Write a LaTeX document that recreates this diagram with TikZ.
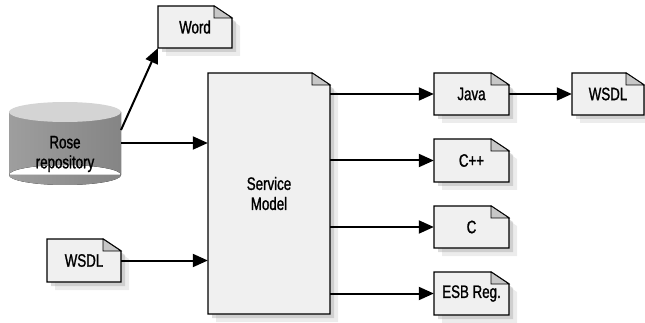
\documentclass[tikz,border=0pt]{standalone}
\usepackage{fontspec}
\setmainfont{Liberation Sans}[FakeStretch=0.74, FakeBold=1.2]
\usetikzlibrary{arrows.meta,shadows}

% dog-eared document: name, left, top, width, height, text
\newcommand{\docnode}[6]{%
  \begin{scope}[shift={(#2,#3)}]
    \filldraw[doc] (0,0) -- (#4-18,0) -- (#4,12) -- (#4,#5) -- (0,#5) -- cycle;
    \filldraw[ear] (#4-18,0) -- (#4-18,12) -- (#4,12) -- cycle;
    \node[lbl, minimum width=#4pt, minimum height=#5pt] (#1) at (#4/2,#5/2) {#6};
  \end{scope}}

\begin{document}
\begin{tikzpicture}[x=1pt, y=-1pt,
      doc/.style={fill=black!6, draw=black, line width=1.4pt,
        drop shadow={shadow xshift=8pt, shadow yshift=-8pt, fill=black!30, opacity=.25},
        drop shadow={shadow xshift=4pt, shadow yshift=-4pt, fill=black!40, opacity=.35}},
      ear/.style={fill=black!22, draw=black, line width=0.7pt},
      lbl/.style={inner sep=0pt, align=center, font=\fontsize{18}{20}\selectfont},
      arr/.style={-{Triangle[length=15pt, width=13pt]}, line width=2pt}]
    \useasboundingbox (0,0) rectangle (645,323);
    % repository cylinder
    \fill[left color=black!38, middle color=black!16, right color=black!48]
      (9,112) rectangle (121,175) (65,175) ellipse [x radius=56, y radius=10];
    \fill[black!17] (65,112) ellipse [x radius=56, y radius=10];
    \node[lbl] (rose) at (65,154) {Rose\\repository};
    \coordinate (rose-a) at (121,130);
    \coordinate (rose-b) at (121,143);
    % documents
    \docnode{word}{158}{6}{74}{42}{Word}
    \docnode{wsdlin}{47}{239}{74}{43}{WSDL}
    \docnode{model}{208}{73}{122}{241}{Service\\Model}
    \docnode{java}{434}{73}{75}{42}{Java}
    \docnode{wsdlout}{572}{73}{72}{42}{WSDL}
    \docnode{cpp}{434}{139}{75}{43}{C++}
    \docnode{c}{434}{206}{75}{42}{C}
    \docnode{esb}{434}{272}{75}{43}{ESB Reg.}
    % connectors
    \draw[arr] (rose-a) -- (word.south west);
    \draw[arr] (rose-b) -- (rose-b -| model.west);
    \draw[arr] (wsdlin.east) -- (wsdlin.east -| model.west);
    \foreach \n in {java,cpp,c,esb} {
      \draw[arr] (\n.west -| model.east) -- (\n.west);
    }
    \draw[arr] (java.east) -- (wsdlout.west);
  \end{tikzpicture}
\end{document}
